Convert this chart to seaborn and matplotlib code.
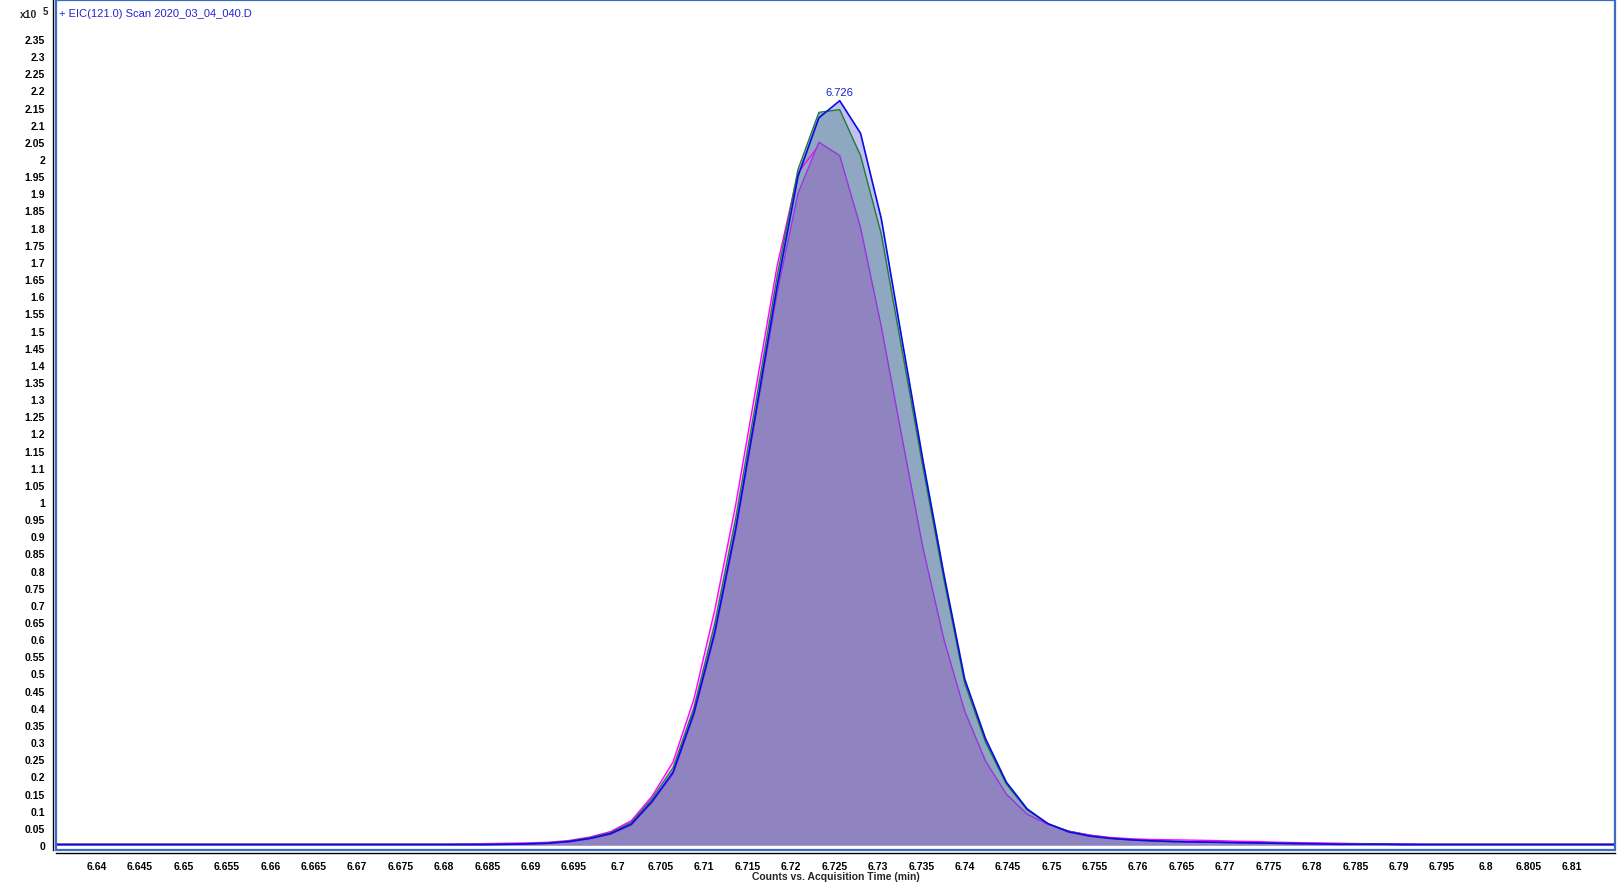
import matplotlib
matplotlib.use("Agg")
import matplotlib.pyplot as plt
import seaborn as sns
import numpy as np
import pandas as pd
from matplotlib.patches import Rectangle
from matplotlib.ticker import FixedLocator, FuncFormatter

# ---------------- data (counts in units of 1e5) ----------------
times = [6.6344, 6.6368, 6.6392, 6.6416, 6.6440, 6.6464, 6.6488, 6.6512, 6.6536,
         6.6560, 6.6584, 6.6608, 6.6632, 6.6656, 6.6680, 6.6704, 6.6728, 6.6752,
         6.6776, 6.6800, 6.6824, 6.6848, 6.6872, 6.6896, 6.6920, 6.6944, 6.6968,
         6.6992, 6.7016, 6.7040, 6.7064, 6.7088, 6.7112, 6.7136, 6.7160, 6.7184,
         6.7208, 6.7232, 6.7256, 6.7280, 6.7304, 6.7328, 6.7352, 6.7376, 6.7400,
         6.7424, 6.7448, 6.7472, 6.7496, 6.7520, 6.7544, 6.7568, 6.7592, 6.7616,
         6.7640, 6.7664, 6.7688, 6.7712, 6.7736, 6.7760, 6.7784, 6.7808, 6.7832,
         6.7856, 6.7880, 6.7904, 6.7928, 6.7952, 6.7976, 6.8000, 6.8024, 6.8048,
         6.8072, 6.8096, 6.8120, 6.8144, 6.8168]

blue = [0.001, 0.001, 0.001, 0.001, 0.001, 0.001, 0.001, 0.001, 0.001,
        0.001, 0.001, 0.001, 0.001, 0.001, 0.001, 0.001, 0.001, 0.001,
        0.001, 0.001, 0.001, 0.001, 0.002, 0.003, 0.005, 0.010, 0.019,
        0.033, 0.061, 0.128, 0.212, 0.385, 0.620, 0.920, 1.270, 1.630,
        1.950, 2.120, 2.170, 2.075, 1.825, 1.470, 1.120, 0.790, 0.484,
        0.310, 0.183, 0.105, 0.062, 0.038, 0.026, 0.019, 0.015, 0.012,
        0.010, 0.009, 0.008, 0.007, 0.006, 0.005, 0.004, 0.003, 0.002,
        0.002, 0.002, 0.001, 0.001, 0.001, 0.001, 0.001, 0.001, 0.001,
        0.001, 0.001, 0.001, 0.001, 0.001]

green = [0.002, 0.002, 0.002, 0.002, 0.002, 0.002, 0.002, 0.002, 0.002,
         0.002, 0.002, 0.002, 0.002, 0.002, 0.002, 0.002, 0.002, 0.002,
         0.002, 0.002, 0.002, 0.002, 0.003, 0.004, 0.006, 0.011, 0.021,
         0.036, 0.066, 0.136, 0.225, 0.400, 0.645, 0.950, 1.300, 1.660,
         1.970, 2.136, 2.144, 2.010, 1.780, 1.440, 1.100, 0.775, 0.472,
         0.300, 0.178, 0.102, 0.062, 0.040, 0.028, 0.020, 0.016, 0.013,
         0.011, 0.009, 0.008, 0.007, 0.006, 0.005, 0.004, 0.004, 0.003,
         0.003, 0.003, 0.002, 0.002, 0.002, 0.002, 0.002, 0.002, 0.002,
         0.002, 0.002, 0.002, 0.002, 0.002]

purple = [0.002, 0.002, 0.002, 0.002, 0.002, 0.002, 0.002, 0.002, 0.002,
          0.002, 0.002, 0.002, 0.002, 0.002, 0.002, 0.002, 0.002, 0.002,
          0.002, 0.002, 0.002, 0.002, 0.003, 0.004, 0.005, 0.009, 0.018,
          0.031, 0.058, 0.124, 0.207, 0.378, 0.612, 0.910, 1.260, 1.610,
          1.900, 2.049, 2.010, 1.800, 1.510, 1.185, 0.865, 0.600, 0.390,
          0.245, 0.148, 0.090, 0.060, 0.040, 0.028, 0.020, 0.015, 0.012,
          0.010, 0.009, 0.008, 0.007, 0.006, 0.005, 0.004, 0.004, 0.003,
          0.003, 0.003, 0.003, 0.002, 0.002, 0.002, 0.002, 0.002, 0.002,
          0.002, 0.002, 0.002, 0.002, 0.002]

magenta = [0.002, 0.002, 0.002, 0.002, 0.002, 0.002, 0.002, 0.002, 0.002,
           0.002, 0.002, 0.002, 0.002, 0.002, 0.002, 0.002, 0.002, 0.002,
           0.002, 0.002, 0.003, 0.004, 0.005, 0.006, 0.008, 0.013, 0.023,
           0.039, 0.071, 0.143, 0.242, 0.425, 0.685, 0.990, 1.340, 1.690,
           1.960, 2.040, 1.990, 1.780, 1.490, 1.170, 0.850, 0.590, 0.380,
           0.240, 0.145, 0.088, 0.058, 0.040, 0.029, 0.022, 0.018, 0.016,
           0.015, 0.014, 0.013, 0.011, 0.010, 0.008, 0.007, 0.006, 0.005,
           0.004, 0.003, 0.003, 0.002, 0.002, 0.002, 0.002, 0.002, 0.002,
           0.002, 0.002, 0.002, 0.002, 0.002]

peak_time = 6.7256
peak_value = 2.170
peak_label = "6.726"

y_ticks = [round(0.05 * i, 2) for i in range(48)]       # 0 .. 2.35
x_ticks = [round(6.64 + 0.005 * i, 3) for i in range(35)]  # 6.64 .. 6.81

title_text = "+ EIC(121.0) Scan 2020_03_04_040.D"
x_label = "Counts vs. Acquisition Time (min)"

# ---------------- styling ----------------
sns.set_style("white")
plt.rcParams['font.family'] = ['Liberation Sans', 'DejaVu Sans']

W, H = 1619, 887
fig = plt.figure(figsize=(W / 100, H / 100), dpi=100)
left_px, right_px, top_px, bottom_px = 56, 1615, 1, 851
ax = fig.add_axes([left_px / W, 1 - bottom_px / H,
                   (right_px - left_px) / W, (bottom_px - top_px) / H])
ax.set_xlim(6.63531, 6.81492)
ax.set_ylim(-0.0146, 2.4636)

df = pd.DataFrame({"t": times, "blue": blue, "green": green,
                   "purple": purple, "magenta": magenta})

c_mag_fill = "#fbc3fb"
c_blue_fill = "#c2c2f0"
c_green_fill = "#8fa7c0"
c_purple_fill = "#8f84c0"

ax.fill_between(df["t"], 0, df["magenta"], color=c_mag_fill, lw=0, zorder=1)
ax.fill_between(df["t"], 0, df["blue"], color=c_blue_fill, lw=0, zorder=2)
ax.fill_between(df["t"], 0, df["green"], color=c_green_fill, lw=0, zorder=3)
sns.lineplot(data=df, x="t", y="magenta", ax=ax, color="#ff00ff", lw=1.0,
             zorder=4, estimator=None, sort=False)
ax.fill_between(df["t"], 0, df["purple"], color=c_purple_fill, lw=0, zorder=5)
sns.lineplot(data=df, x="t", y="green", ax=ax, color="#1f7a3c", lw=1.0,
             zorder=6, estimator=None, sort=False)
sns.lineplot(data=df, x="t", y="purple", ax=ax, color="#9a34e0", lw=1.0,
             zorder=7, estimator=None, sort=False)
sns.lineplot(data=df, x="t", y="blue", ax=ax, color="#0a0ae6", lw=1.2,
             zorder=8, estimator=None, sort=False)

ax.annotate(peak_label, xy=(peak_time, peak_value), xytext=(0, 3),
            textcoords="offset points", ha="center", va="bottom",
            color="#1c1ce0", fontsize=8, zorder=10)

# frame
for s in ["top", "right"]:
    ax.spines[s].set_visible(False)
for s in ["left", "bottom"]:
    ax.spines[s].set_visible(True)
    ax.spines[s].set_color("black")
    ax.spines[s].set_linewidth(1.0)
    ax.spines[s].set_position(("outward", 2))
ax.add_patch(Rectangle((0, 0), 1, 1, transform=ax.transAxes, fill=False,
                       edgecolor="#3a6cc6", lw=1.6, clip_on=False, zorder=20))

ax.xaxis.set_major_locator(FixedLocator(x_ticks))
ax.yaxis.set_major_locator(FixedLocator(y_ticks))
fmt = FuncFormatter(lambda v, p: ("%g" % round(v, 3)))
ax.xaxis.set_major_formatter(fmt)
ax.yaxis.set_major_formatter(fmt)
ax.tick_params(axis="both", direction="out", length=5, width=1, color="black",
               labelsize=7.5, labelcolor="black", pad=1)
for lab in ax.get_xticklabels() + ax.get_yticklabels():
    lab.set_fontweight("bold")
ax.set_xlabel("")
ax.set_ylabel("")

fig.text(835.5 / W, 1 - 877 / H, x_label, ha="center", va="center",
         fontsize=7.5, fontweight="bold")
fig.text(59 / W, 1 - 14 / H, title_text, ha="left", va="center",
         fontsize=8, color="#2424d0")
fig.text(20 / W, 1 - 15 / H, "x10", ha="left", va="center", fontsize=7.5,
         fontweight="bold")
fig.text(43 / W, 1 - 12 / H, "5", ha="left", va="center", fontsize=7,
         fontweight="bold")

fig.savefig("out.png", dpi=100, facecolor="white")
